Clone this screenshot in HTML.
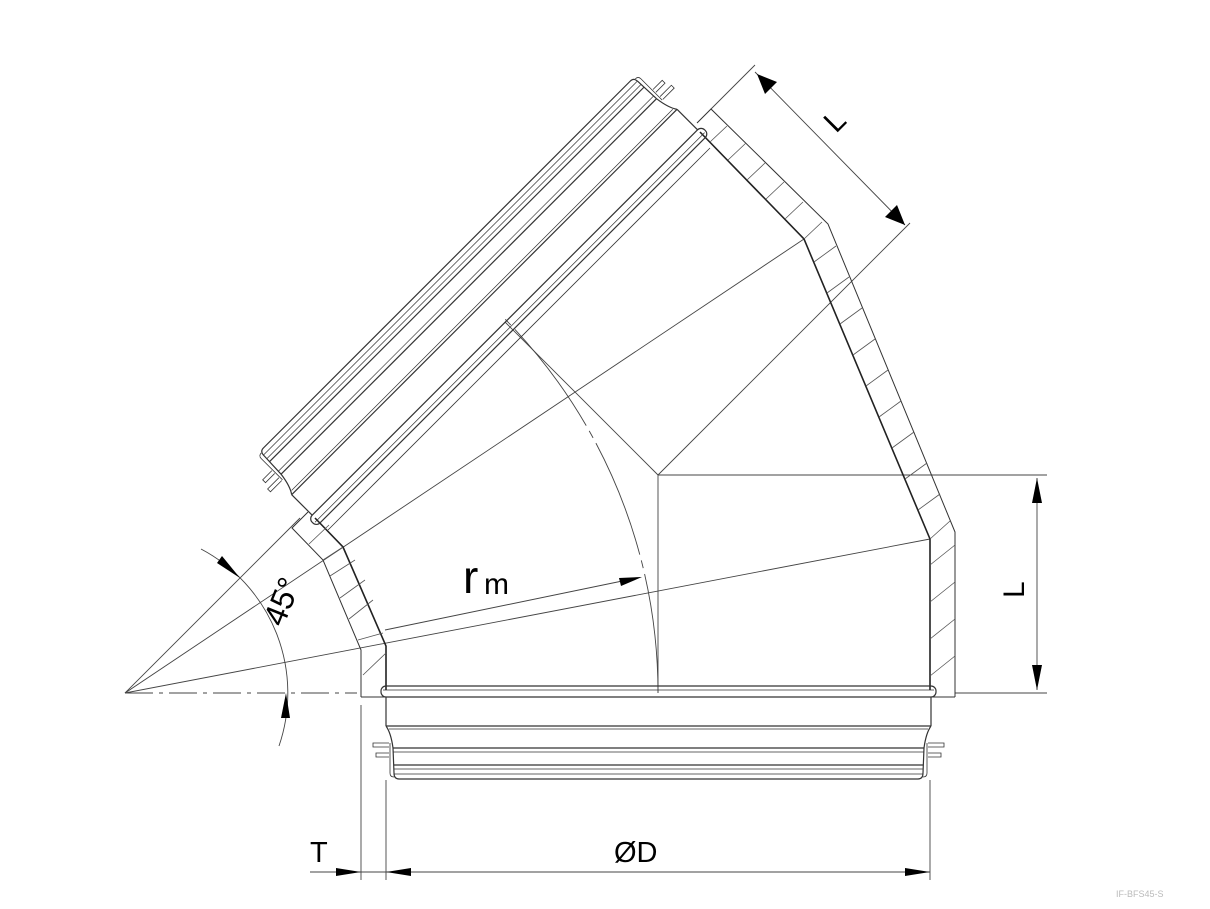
<!DOCTYPE html>
<html><head><meta charset="utf-8"><style>
html,body{margin:0;padding:0;background:#fff}
svg{display:block}
text{font-family:"Liberation Sans",sans-serif;fill:#000}
</style></head><body>
<svg width="1210" height="909" viewBox="0 0 1210 909" xmlns="http://www.w3.org/2000/svg">
<defs>
<g id="spig" fill="none" stroke="#333" stroke-width="1.2">
  <rect x="-5" y="-7" width="555" height="11" rx="5"/>
  <line x1="-3" y1="-3" x2="548" y2="-3" stroke-width="0.7"/>
  <line x1="0" y1="4" x2="0" y2="33"/>
  <line x1="545" y1="4" x2="545" y2="33"/>
  <line x1="0" y1="33" x2="545" y2="33"/>
  <line x1="3" y1="36" x2="542" y2="36" stroke-width="0.7"/>
  <path d="M0,33 Q5,40 7,55 L8,80 Q8,86 13,86 L532,86 Q537,86 537,80 L538,55 Q540,40 545,33"/>
  <line x1="7" y1="55" x2="538" y2="55"/>
  <line x1="7" y1="59" x2="538" y2="59" stroke-width="0.7"/>
  <line x1="8" y1="72" x2="537" y2="72"/>
  <line x1="8" y1="76" x2="537" y2="76" stroke-width="0.7"/>
  <line x1="8" y1="81" x2="537" y2="81" stroke-width="0.7"/>
  <path d="M4,50 V80 Q4,84 8,84" stroke-width="0.8"/>
  <path d="M541,50 V80 Q541,84 537,84" stroke-width="0.8"/>
  <path d="M3,50 H-13 V54 H3 M3,60 H-10 V64 H3" stroke-width="0.8"/>
  <path d="M542,50 H558 V54 H542 M542,60 H555 V64 H542" stroke-width="0.8"/>
</g>
</defs>

<!-- thin construction lines -->
<g fill="none" stroke="#444" stroke-width="0.9">
  <line x1="125" y1="693" x2="930" y2="539"/>
  <line x1="125" y1="693" x2="804" y2="239"/>
  <line x1="125" y1="693" x2="300" y2="518"/>
  <line x1="125" y1="693" x2="357" y2="693" stroke-dasharray="28,6,4,6"/>
  <line x1="385" y1="630" x2="632" y2="579"/>
  <line x1="658" y1="475" x2="658" y2="693"/>
  <line x1="658" y1="475" x2="505" y2="322"/>
  <line x1="658" y1="475" x2="910" y2="223"/>
  <path d="M658,693 A533,533 0 0 0 502,316" stroke-dasharray="120,6,8,6"/>
  <path d="M201,549 A163,163 0 0 1 279,746"/>
  <!-- dimension extension lines -->
  <line x1="658" y1="475" x2="1047" y2="475"/>
  <line x1="955" y1="693" x2="1047" y2="693"/>
  <line x1="1037" y1="478" x2="1037" y2="690"/>
  <line x1="711" y1="109" x2="755" y2="65"/>
  <line x1="755" y1="72" x2="905" y2="225"/>
  <line x1="361" y1="705" x2="361" y2="880"/>
  <line x1="386" y1="780" x2="386" y2="880"/>
  <line x1="930" y1="780" x2="930" y2="880"/>
  <line x1="310" y1="872" x2="930" y2="872"/>
</g>

<!-- arrowheads -->
<g fill="#000" stroke="none">
  <polygon points="1037,478 1032,503 1042,503"/>
  <polygon points="1037,690 1032,665 1042,665"/>
  <polygon points="757,74 777,82 765,94" />
  <polygon points="905,225 885,217 897,205"/>
  <polygon points="361,872 336,868 336,876"/>
  <polygon points="386,872 411,868 411,876"/>
  <polygon points="930,872 905,868 905,876"/>
  <polygon points="642,577 619,578 621,586"/>
  <polygon points="240,578 217,563 222,556"/>
  <polygon points="286,693 281,718 290,718"/>
</g>

<!-- insulation outlines -->
<g fill="none" stroke="#333" stroke-width="1">
  <polyline points="955,697 955,532 828,224 711,109 697,123"/>
  <polyline points="361,697 361,650 323,560 292,528 308,512"/>
  <line x1="361" y1="697" x2="386" y2="697"/>
  <line x1="930" y1="697" x2="955" y2="697"/>
</g>
<g fill="none" stroke="#222" stroke-width="1.6">
  <polyline points="930,690 930,539 804,239 700,132"/>
  <polyline points="386,690 386,646 343,547 315,518"/>
</g>
<!-- hatching -->
<g stroke="#555" stroke-width="0.8">
  <line x1="930" y1="565" x2="955" y2="545"/>
  <line x1="930" y1="602" x2="955" y2="582"/>
  <line x1="930" y1="639" x2="955" y2="619"/>
  <line x1="930" y1="676" x2="955" y2="656"/>
  <line x1="930" y1="539" x2="950" y2="521"/>
  <line x1="918" y1="510" x2="940" y2="494"/>
  <line x1="905" y1="479" x2="927" y2="463"/>
  <line x1="892" y1="448" x2="914" y2="432"/>
  <line x1="879" y1="417" x2="901" y2="401"/>
  <line x1="866" y1="386" x2="888" y2="370"/>
  <line x1="853" y1="355" x2="875" y2="339"/>
  <line x1="840" y1="324" x2="862" y2="308"/>
  <line x1="827" y1="293" x2="849" y2="277"/>
  <line x1="814" y1="262" x2="836" y2="246"/>
  <line x1="804" y1="239" x2="822" y2="222"/>
  <line x1="785" y1="219" x2="803" y2="202"/>
  <line x1="766" y1="199" x2="784" y2="182"/>
  <line x1="747" y1="180" x2="765" y2="163"/>
  <line x1="728" y1="160" x2="746" y2="143"/>
  <line x1="710" y1="142" x2="727" y2="126"/>
  <line x1="363" y1="675" x2="386" y2="653"/>
  <line x1="358" y1="640" x2="383" y2="633"/>
  <line x1="349" y1="619" x2="373" y2="600"/>
  <line x1="340" y1="598" x2="365" y2="580"/>
  <line x1="330" y1="576" x2="355" y2="560"/>
  <line x1="323" y1="560" x2="343" y2="547"/>
  <line x1="309" y1="544" x2="329" y2="525"/>
</g>

<!-- spigots -->
<use href="#spig" transform="translate(386,693)"/>
<use href="#spig" transform="matrix(0.7071,-0.7071,-0.7071,-0.7071,315,518)"/>
<g stroke="#333" stroke-width="0.8" fill="none">
  <line x1="328" y1="530" x2="710" y2="148"/>
</g>

<!-- labels -->
<text x="0" y="0" font-size="32" transform="translate(283,628) rotate(-68)">45°</text>
<text x="463" y="593" font-size="46">r</text>
<text x="484" y="594" font-size="30">m</text>
<text x="0" y="0" font-size="30" transform="translate(1024,598) rotate(-90)">L</text>
<text x="0" y="0" font-size="30" transform="translate(836,134) rotate(-45)">L</text>
<text x="310" y="862" font-size="29">T</text>
<text x="614" y="862" font-size="29">ØD</text>
<text x="1116" y="897" font-size="9" fill="#bbb" style="fill:#bbb">IF-BFS45-S</text>
</svg>
</body></html>
